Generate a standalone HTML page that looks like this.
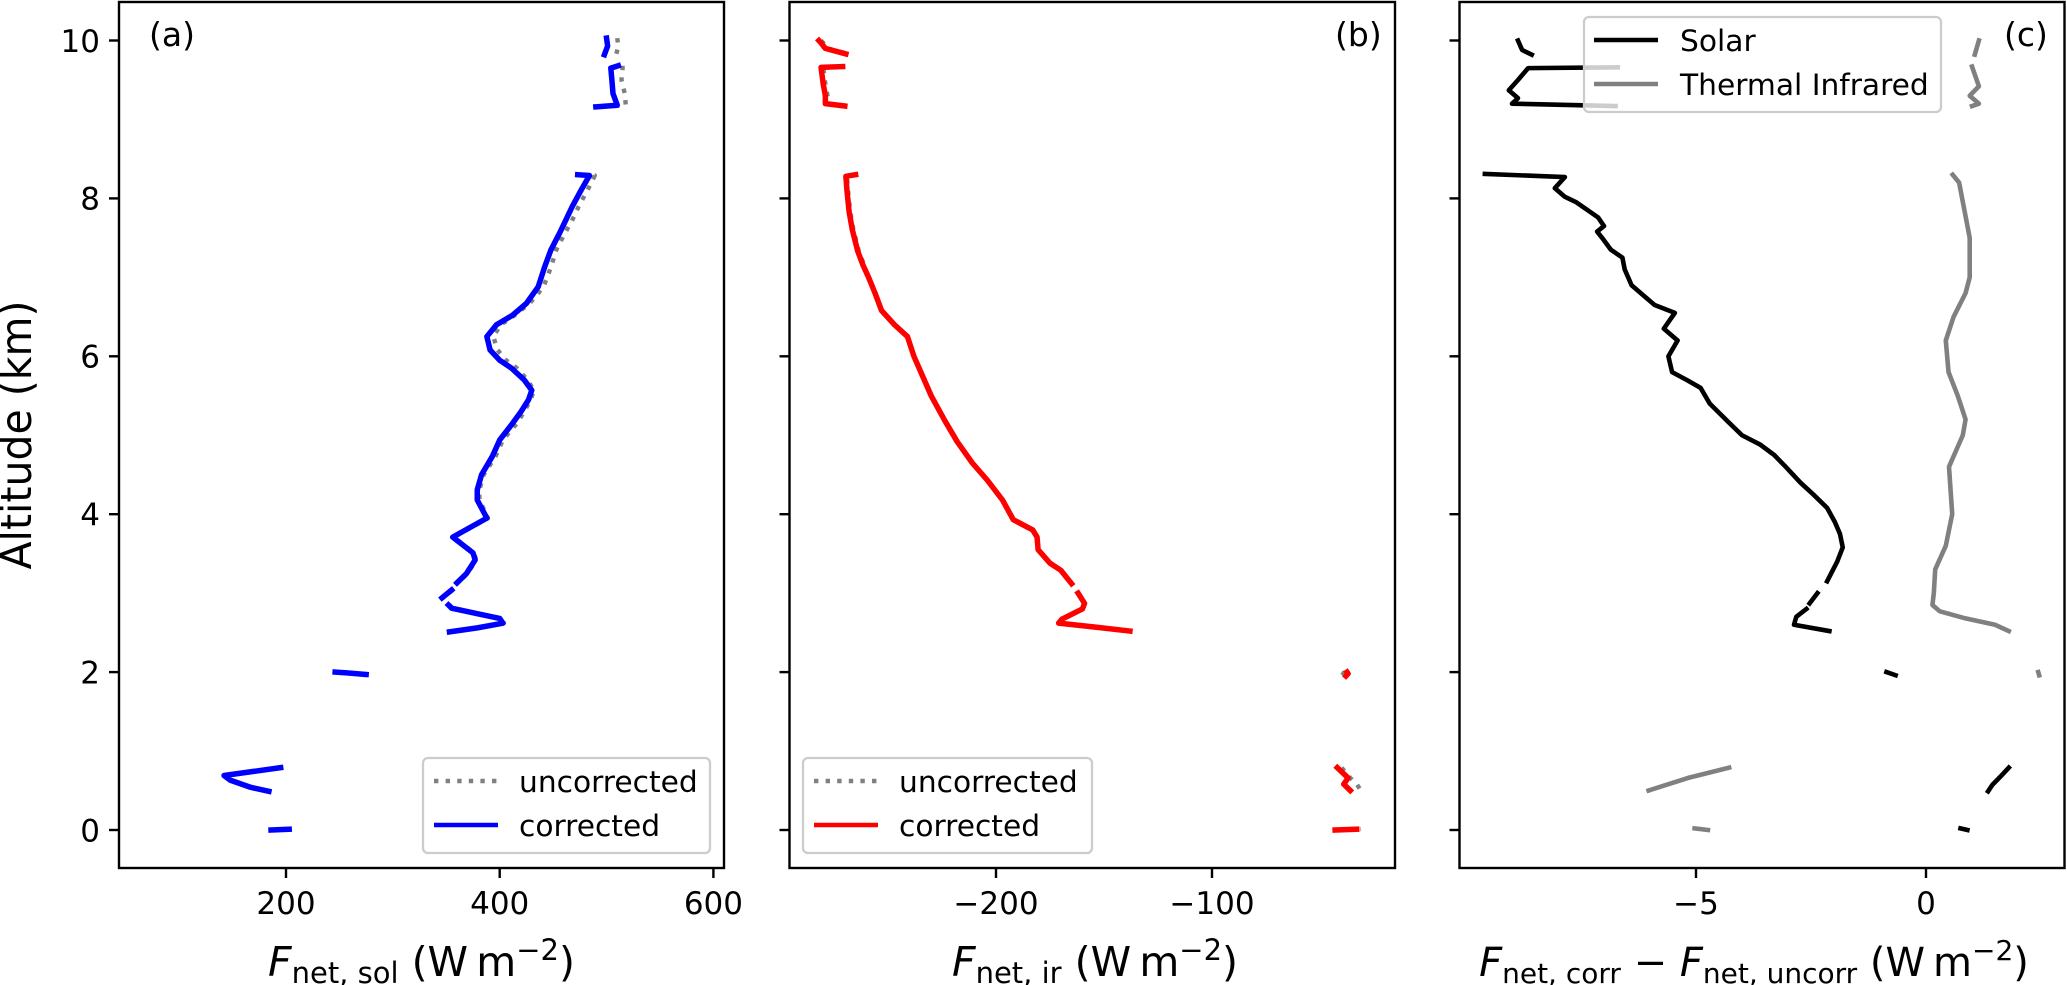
<!DOCTYPE html>
<html lang="en">
<head>
<meta charset="utf-8">
<title>Net flux profiles</title>
<style>
html,body{margin:0;padding:0;background:#fff;width:2067px;height:985px;overflow:hidden}
svg{display:block}
text{font-family:"DejaVu Sans","Liberation Sans",sans-serif;fill:#000}
</style>
</head>
<body>
<svg id="fig" width="2067" height="985" viewBox="0 0 2067 985" xmlns="http://www.w3.org/2000/svg">
  <rect width="2067" height="985" fill="#fff"/>
  <g id="marks"></g>

  <g>
    <rect x="423" y="758" width="287" height="95" rx="5" fill="#fff" fill-opacity="0.8" stroke="#ccc" stroke-width="2.3"/>
    <line x1="434" y1="781" x2="498" y2="781" stroke="#808080" stroke-width="4.4" stroke-dasharray="4.4 7.2"/>
    <text x="519" y="792" font-size="29.7">uncorrected</text>
    <line x1="434" y1="825" x2="498" y2="825" stroke="#0000ff" stroke-width="4.4"/>
    <text x="519" y="836" font-size="29.7">corrected</text>
  </g>
  <g>
    <rect x="803" y="758" width="289" height="95" rx="5" fill="#fff" fill-opacity="0.8" stroke="#ccc" stroke-width="2.3"/>
    <line x1="814" y1="781" x2="878" y2="781" stroke="#808080" stroke-width="4.4" stroke-dasharray="4.4 7.2"/>
    <text x="899" y="792" font-size="29.7">uncorrected</text>
    <line x1="814" y1="825" x2="878" y2="825" stroke="#ff0000" stroke-width="4.4"/>
    <text x="899" y="836" font-size="29.7">corrected</text>
  </g>
  <g>
    <rect x="1584" y="17" width="357" height="95" rx="5" fill="#fff" fill-opacity="0.8" stroke="#ccc" stroke-width="2.3"/>
    <line x1="1594" y1="40" x2="1658" y2="40" stroke="#000" stroke-width="4.4"/>
    <text x="1680" y="51" font-size="29.7">Solar</text>
    <line x1="1594" y1="84" x2="1658" y2="84" stroke="#808080" stroke-width="4.4"/>
    <text x="1680" y="95" font-size="29.7">Thermal Infrared</text>
  </g>

  <rect x="119" y="2" width="605" height="866" fill="none" stroke="#000" stroke-width="2.4"/>
  <rect x="789.5" y="2" width="605.5" height="866" fill="none" stroke="#000" stroke-width="2.4"/>
  <rect x="1459.5" y="2" width="605" height="866" fill="none" stroke="#000" stroke-width="2.4"/>

  <text x="149" y="46" font-size="33">(a)</text>
  <text x="1335" y="46" font-size="33">(b)</text>
  <text x="2004" y="46" font-size="33">(c)</text>

  <text transform="translate(31,435) rotate(-90)" text-anchor="middle" textLength="269" lengthAdjust="spacingAndGlyphs" style="font-size:43px">Altitude (km)</text>

  <text x="421.5" y="976" text-anchor="middle" font-size="41"><tspan font-style="italic">F</tspan><tspan dy="7" font-size="29">net, sol</tspan><tspan dy="-7"> (W&#8201;m</tspan><tspan dy="-16" font-size="29">−2</tspan><tspan dy="16">)</tspan></text>
  <text x="1095" y="976" text-anchor="middle" font-size="41"><tspan font-style="italic">F</tspan><tspan dy="7" font-size="29">net, ir</tspan><tspan dy="-7"> (W&#8201;m</tspan><tspan dy="-16" font-size="29">−2</tspan><tspan dy="16">)</tspan></text>
  <text x="1754" y="976" text-anchor="middle" font-size="40"><tspan font-style="italic">F</tspan><tspan dy="7" font-size="28">net, corr</tspan><tspan dy="-7"> − </tspan><tspan font-style="italic">F</tspan><tspan dy="7" font-size="28">net, uncorr</tspan><tspan dy="-7"> (W&#8201;m</tspan><tspan dy="-16" font-size="28">−2</tspan><tspan dy="16">)</tspan></text>
</svg>

<script>
// Altitude ticks (km)
var altitudeTicks = [0, 2, 4, 6, 8, 10];
var solTicks = [200, 400, 600];
var irTicks = [-200, -100];
var diffTicks = [-5, 0];

// Panel (a): net solar flux. null marks a data gap.
var solAlt = [10.03,9.93,9.82,null,9.68,9.65,9.5,9.33,9.18,9.16,null,8.30,8.29,8.1,7.9,7.7,7.56,7.35,7.13,6.88,6.67,6.52,6.40,6.25,6.08,5.95,5.85,5.7,5.57,5.45,5.3,5.15,4.94,4.73,4.50,4.31,4.18,3.95,3.71,3.51,3.42,3.25,3.13,null,3.04,2.94,null,2.85,2.81,2.74,2.68,2.62,2.56,2.51,null,2.00,1.99,1.97,null,0.79,0.69,0.63,0.54,0.49,null,0.0,0.01];
var solCorrected = [500,501,498,null,511,504,505,506,510,490,null,473,484,476,468,461,456,448,442,436,425,412,397,388,391,400,411,423,430,427,420,412,400,393,383,379,379,388,356,375,377,369,360,null,355,346,null,352,355,379,400,403,379,353,null,246,257,275,null,195,142,148,167,184,null,186,203];
var solUncorrected = [510,511,509,null,515,515,514,517,518,493,null,478,489,482,474,467,461,453,448,441,428,414,401,394,398,406,416,426,432,429,423,416,403,396,385,381,381,389,357,376,378,370,361,null,356,347,null,353,356,380,401,404,380,354,null,247,258,276,null,196,143,149,168,185,null,187,204];

// Panel (b): net infrared flux
var irAlt = [10.0,9.97,9.9,9.83,null,9.67,9.66,9.45,9.3,9.2,9.17,null,8.3,8.28,8.1,7.83,7.6,7.33,7.15,7.0,6.8,6.58,6.4,6.25,6.0,5.75,5.5,5.2,4.92,4.65,4.43,4.18,3.93,3.8,3.71,3.55,3.38,3.29,3.12,null,3.0,2.87,2.8,2.67,2.62,2.57,2.52,null,2.0,1.98,1.95,null,0.79,0.66,0.58,0.5,null,0.0,0.01];
var irCorrected = [-282,-281,-279,-269.5,null,-271,-281,-280,-279,-279,-270,null,-265,-269.5,-269,-268,-266.5,-264,-261.5,-259,-256,-253,-247,-241,-238,-234,-230,-224,-218,-211,-204,-197,-192,-183,-181,-180.5,-175,-170,-165,null,-162,-159,-160,-169.5,-171,-154,-138,null,-37.5,-37,-38,null,-42,-37,-39,-36,null,-43,-33];
var irUncorrected = [-281,-280,-278,-268.5,null,-270,-280,-279,-278,-278,-269,null,-265,-269,-268.5,-267.5,-266,-263.5,-261,-259,-256,-253,-247,-241,-238,-234,-230,-224,-218,-211,-204,-197,-192,-183,-181,-180.5,-175,-170,-165,null,-162,-159,-160,-169.5,-171,-154,-138,null,-40,-39,-38,null,-40,-36,-33,-31,null,-42,-31];

// Panel (c): corrected minus uncorrected
var diffSolarAlt = [10.0,9.88,9.82,null,9.66,9.65,9.5,9.37,9.27,9.2,9.17,null,8.31,8.27,8.13,8.02,7.95,7.76,7.65,7.58,7.5,7.35,7.25,7.1,6.9,6.75,6.65,6.55,6.35,6.2,6.0,5.8,5.7,5.6,5.4,5.17,5.0,4.88,4.75,4.6,4.4,4.25,4.08,3.9,3.75,3.58,3.4,3.15,null,3.0,2.87,null,2.8,2.7,2.6,2.52,null,2.0,1.96,null,0.79,0.69,0.57,0.49,null,0.02,0.0];
var diffSolar = [-8.87,-8.78,-8.57,null,-6.7,-8.65,-8.87,-9.07,-8.87,-9.0,-6.75,null,-9.59,-7.85,-8.07,-7.85,-7.6,-7.13,-7.0,-7.15,-7.04,-6.85,-6.6,-6.55,-6.4,-6.1,-5.9,-5.46,-5.7,-5.4,-5.6,-5.52,-5.2,-4.9,-4.7,-4.3,-4.0,-3.6,-3.3,-3.05,-2.73,-2.45,-2.15,-1.98,-1.87,-1.81,-1.93,-2.15,null,-2.36,-2.53,null,-2.6,-2.82,-2.87,-2.1,null,-0.86,-0.66,null,1.8,1.64,1.44,1.35,null,0.75,0.9];
var diffIrAlt = [10.0,9.82,null,9.67,9.42,9.3,9.2,9.17,null,8.3,8.2,7.5,7.0,6.8,6.5,6.2,5.8,5.5,5.2,5.0,4.6,4.0,3.6,3.3,3.0,2.85,2.77,2.68,2.6,2.52,null,2.0,1.96,null,0.79,0.66,0.58,0.5,null,0.02,0.0];
var diffIr = [1.15,1.06,null,1.0,1.15,0.95,1.15,1.0,null,0.58,0.72,0.95,0.95,0.86,0.6,0.43,0.49,0.69,0.86,0.8,0.5,0.57,0.43,0.2,0.17,0.14,0.3,0.86,1.5,1.8,null,2.44,2.46,null,-4.28,-5.17,-5.6,-6.03,null,-5.03,-4.74];

var NS = 'http://www.w3.org/2000/svg';
var marks = document.getElementById('marks');

function yAlt(a) { return 830 - a * 78.95; }
function xSol(v) { return 286 + (v - 200) * 1.0685; }
function xIr(v) { return 1212 + (v + 100) * 2.16; }
function xDiff(v) { return 1926 + v * 46; }

function pathFrom(alts, vals, xf) {
  var d = '', pen = false;
  for (var i = 0; i < alts.length; i++) {
    if (alts[i] === null || vals[i] === null) { pen = false; continue; }
    d += (pen ? 'L' : 'M') + xf(vals[i]).toFixed(2) + ' ' + yAlt(alts[i]).toFixed(2);
    pen = true;
  }
  return d;
}

function drawLine(name, alts, vals, xf, color, width, dash) {
  var p = document.createElementNS(NS, 'path');
  
  
  p.setAttribute('d', pathFrom(alts, vals, xf));
  p.setAttribute('fill', 'none');
  p.setAttribute('stroke', color);
  p.setAttribute('stroke-width', width);
  p.setAttribute('stroke-linejoin', 'round');
  p.setAttribute('stroke-linecap', dash ? 'butt' : 'square');
  if (dash) { p.setAttribute('stroke-dasharray', dash); }
  marks.appendChild(p);
}

drawLine('uncorrected-solar-line', solAlt, solUncorrected, xSol, '#808080', 4.4, '4.4 7.2');
drawLine('corrected-solar-line', solAlt, solCorrected, xSol, '#0000ff', 5.5);
drawLine('uncorrected-ir-line', irAlt, irUncorrected, xIr, '#808080', 4.4, '4.4 7.2');
drawLine('corrected-ir-line', irAlt, irCorrected, xIr, '#ff0000', 5.5);
drawLine('solar-difference-line', diffSolarAlt, diffSolar, xDiff, '#000000', 4.6);
drawLine('thermal-difference-line', diffIrAlt, diffIr, xDiff, '#808080', 4.6);

function tickLine(x1, y1, x2, y2) {
  var t = document.createElementNS(NS, 'line');
  
  
  t.setAttribute('x1', x1);
  t.setAttribute('y1', y1);
  t.setAttribute('x2', x2);
  t.setAttribute('y2', y2);
  t.setAttribute('stroke', '#000');
  t.setAttribute('stroke-width', '2.4');
  marks.appendChild(t);
}

function tickText(x, y, anchor, str) {
  var t = document.createElementNS(NS, 'text');
  
  
  t.setAttribute('x', x);
  t.setAttribute('y', y);
  t.setAttribute('text-anchor', anchor);
  t.setAttribute('font-size', '31');
  t.textContent = str;
  marks.appendChild(t);
}

[119, 789.5, 1459.5].forEach(function (left, idx) {
  altitudeTicks.forEach(function (a) {
    var y = yAlt(a);
    tickLine(left - 10, y, left, y);
    if (idx === 0) { tickText(left - 19, y + 11.3, 'end', String(a)); }
  });
});

function xTicks(values, xf) {
  values.forEach(function (v) {
    var x = xf(v);
    tickLine(x, 868, x, 878);
    tickText(x, 914, 'middle', String(v).replace('-', '\u2212'));
  });
}
xTicks(solTicks, xSol);
xTicks(irTicks, xIr);
xTicks(diffTicks, xDiff);
</script>
</body>
</html>
